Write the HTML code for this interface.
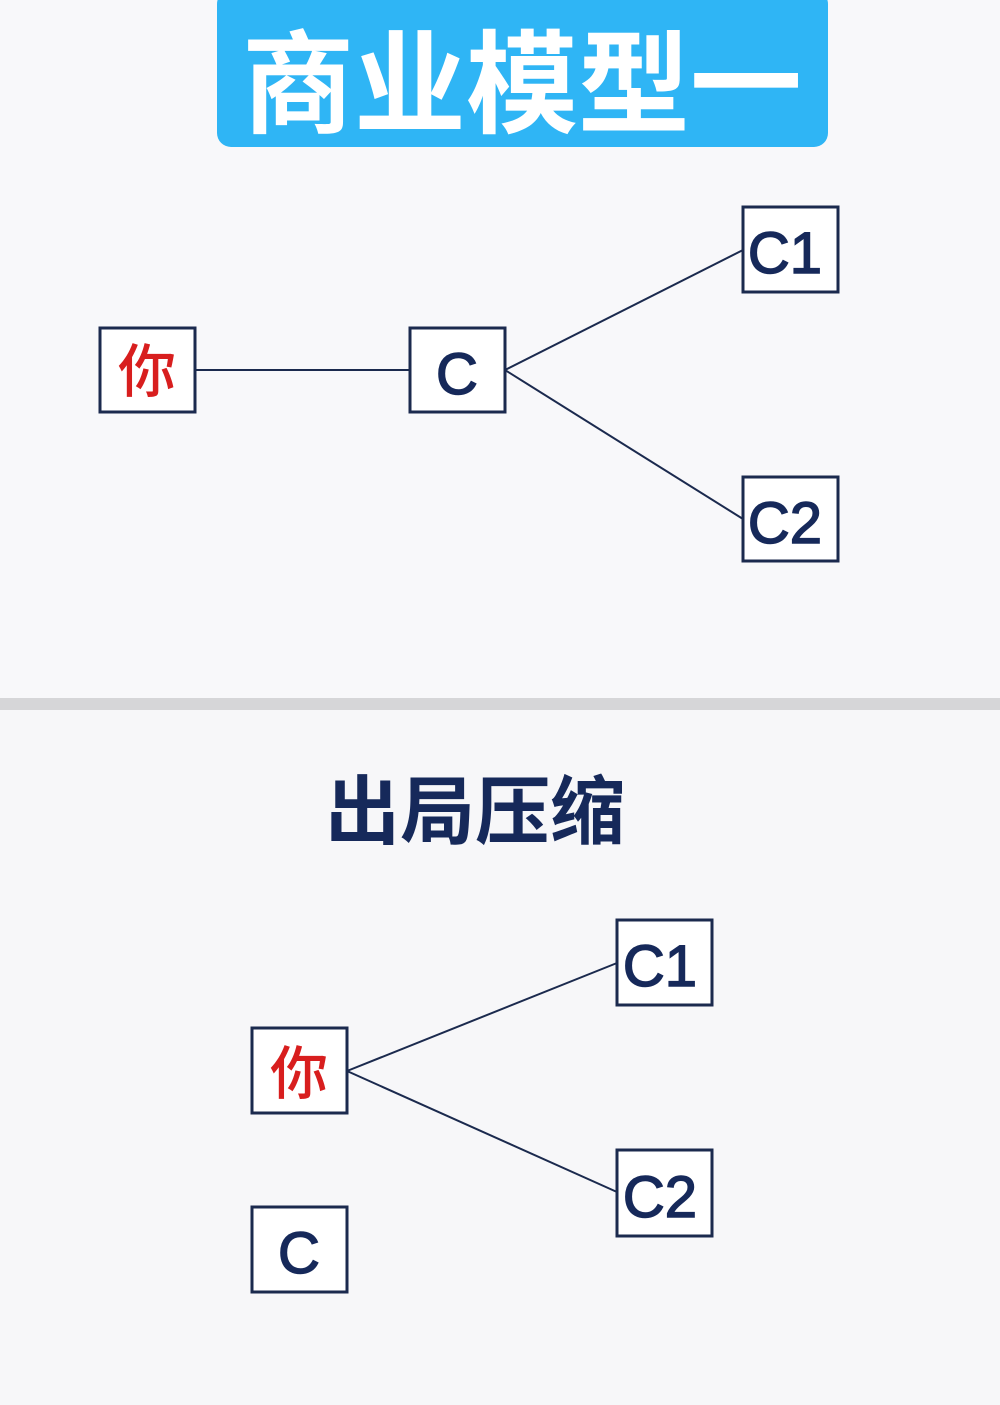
<!DOCTYPE html>
<html><head><meta charset="utf-8"><style>
html,body{margin:0;padding:0;background:#f7f7f9;}
svg{display:block}
text{font-family:"Liberation Sans","Noto Sans CJK SC",sans-serif;}
</style></head><body>
<svg width="1000" height="1405" viewBox="0 0 1000 1405" xmlns="http://www.w3.org/2000/svg">
<rect x="0" y="0" width="1000" height="1405" fill="#f7f7f9"/>
<rect x="0" y="0" width="1000" height="700" fill="#f8f8fa"/>
<rect x="0" y="698" width="1000" height="12" fill="#d6d6d8"/>
<rect x="217" y="-10" width="611" height="157" rx="14" fill="#2fb5f5"/>
<text x="522" y="124" text-anchor="middle" font-size="112" font-weight="bold" fill="#fff" font-family="Noto Sans CJK SC, sans-serif">商业模型一</text>

<g stroke="#1b2a4e" stroke-width="2" fill="none">
<line x1="195" y1="370" x2="410" y2="370"/>
<line x1="505" y1="370" x2="743" y2="250"/>
<line x1="505" y1="370" x2="743" y2="519"/>
<line x1="347" y1="1071" x2="617" y2="963"/>
<line x1="347" y1="1071" x2="617" y2="1192"/>
</g>
<g stroke="#1b2a4e" stroke-width="3" fill="#fff">
<rect x="100" y="328" width="95" height="84"/>
<rect x="410" y="328" width="95" height="84"/>
<rect x="743" y="207" width="95" height="85"/>
<rect x="743" y="477" width="95" height="84"/>
<rect x="617" y="920" width="95" height="85"/>
<rect x="252" y="1028" width="95" height="85"/>
<rect x="617" y="1150" width="95" height="86"/>
<rect x="252" y="1207" width="95" height="85"/>
</g>
<g font-size="58" text-anchor="middle" fill="#16295a" stroke="#16295a" stroke-width="1.5">
<text x="457" y="394">C</text>
<text x="785" y="273">C1</text>
<text x="785" y="543">C2</text>
<text x="660" y="986">C1</text>
<text x="660" y="1217">C2</text>
<text x="299" y="1273">C</text>
</g>
<g font-size="58" text-anchor="middle" fill="#d81e1e" font-family="Noto Sans CJK SC, sans-serif" font-weight="500">
<text x="147" y="392">你</text>
<text x="299" y="1094">你</text>
</g>
<text x="475" y="838" text-anchor="middle" font-size="75" font-weight="bold" fill="#16295a" font-family="Noto Sans CJK SC, sans-serif">出局压缩</text>
</svg>
</body></html>
